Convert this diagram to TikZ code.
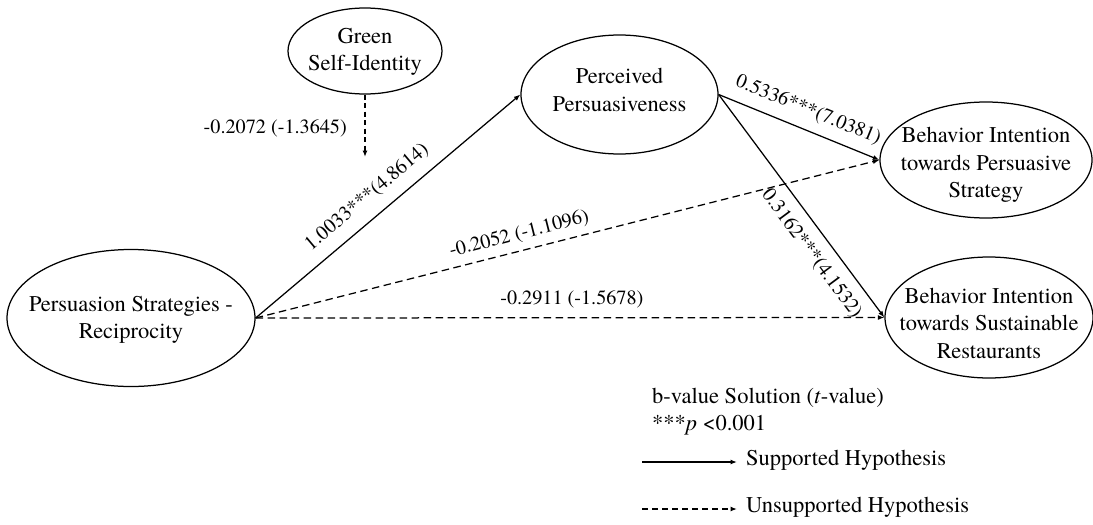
\documentclass[tikz,border=0pt]{standalone}
\usepackage{fontspec}
\setmainfont{TeX Gyre Termes}
\usetikzlibrary{shapes.geometric,arrows.meta}
\begin{document}
\begin{tikzpicture}[x=1pt,y=-1pt,
  ell/.style={ellipse,draw,line width=1.25pt,inner sep=0pt},
  txt/.style={align=center,inner sep=0pt,font=\fontsize{22.5}{27.5}\selectfont},
  lab/.style={inner sep=0pt,font=\fontsize{20.2}{24}\selectfont},
  leg/.style={inner sep=0pt,font=\fontsize{22.5}{27}\selectfont},
  sup/.style={line width=1.25pt,-{Latex[length=6.5pt,width=5pt]}},
  unsup/.style={line width=1.25pt,dash pattern=on 7.5pt off 4.5pt,-{Latex[length=6.5pt,width=5pt]}}
]
\useasboundingbox (0,0) rectangle (1093,525);
% ellipses
\node[ell,minimum width=154pt,minimum height=86pt] (gsi) at (365,51) {};
\node[txt] (gsit) at (365,52) {Green\\Self-Identity};
\node[ell,minimum width=197pt,minimum height=119pt] (pp) at (619.5,94.5) {};
\node[txt] (ppt) at (619.5,90) {Perceived\\Persuasiveness};
\node[ell,minimum width=248pt,minimum height=137pt] (rec) at (131,318) {};
\node[txt] (rect) at (131,320) {Persuasion Strategies -\\Reciprocity};
\node[ell,minimum width=212pt,minimum height=116pt] (bip) at (986,160) {};
\node[txt] (bipt) at (986,165) {Behavior Intention\\towards Persuasive\\Strategy};
\node[ell,minimum width=208pt,minimum height=121pt] (bis) at (989,317.5) {};
\node[txt] (bist) at (989,323) {Behavior Intention\\towards Sustainable\\Restaurants};
% moderator arrow
\coordinate (gend) at (365,157);
\draw[unsup,dash pattern=on 5pt off 3.5pt] (gsi.south) -- (gend);
\node[lab,anchor=base east] (glab) at (347,133) {-0.2072 (-1.3645)};
% paths
\draw[sup] (rec.east) -- (pp.west) node[lab,sloped,pos=0.47,above=11pt] (l1) {1.0033***(4.8614)};
\draw[unsup] (rec.east) -- (bip.west) node[lab,sloped,pos=0.429,above=7pt] (l2) {-0.2052 (-1.1096)};
\draw[unsup] (rec.east) -- (bis.west) node[lab,pos=0.503,above=9pt] (l3) {-0.2911 (-1.5678)};
\draw[sup] (pp.east) -- (bip.west) node[lab,sloped,pos=0.512,above=10pt] (l4) {0.5336***(7.0381)};
\draw[sup] (pp.east) -- (bis.west) node[lab,sloped,pos=0.66,below=11pt] (l5) {0.3162***(4.1532)};
% legend
\node[leg,anchor=base west] (lg1) at (652,403) {b-value Solution (\textit{t}-value)};
\node[leg,anchor=base west] (lg2) at (652,430) {***\textit{p} <0.001};
\coordinate (s1) at (642,462);
\coordinate (s2) at (737,462);
\draw[sup] (s1) -- (s2);
\node[leg,anchor=west] (lg3) at (746,460) {Supported Hypothesis};
\coordinate (u1) at (642,509);
\coordinate (u2) at (737,509);
\draw[unsup,dash pattern=on 6pt off 4pt] (u1) -- (u2);
\node[leg,anchor=west] (lg4) at (746,507) {Unsupported Hypothesis};
\end{tikzpicture}
\end{document}
